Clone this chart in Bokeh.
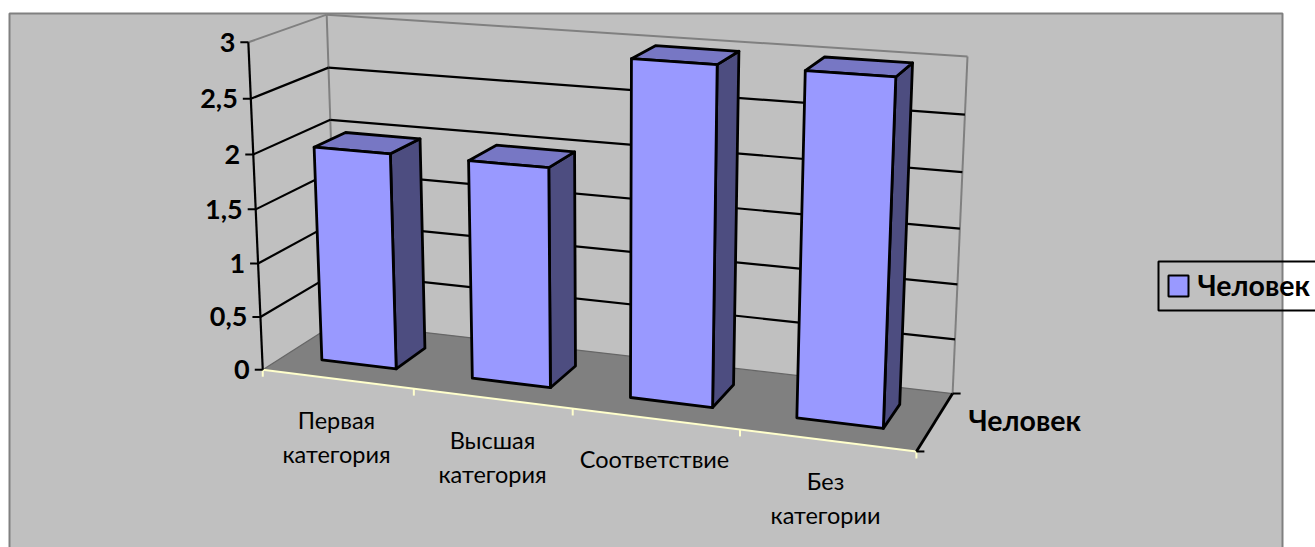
import numpy as np
from bokeh.plotting import figure
from bokeh.embed import file_html
from bokeh.resources import INLINE
from bokeh.core.properties import value

# ---- data ----
categories = ["Первая\nкатегория", "Высшая\nкатегория", "Соответствие", "Без\nкатегории"]
series_name = "Человек"
series_values = [2, 2, 3, 3]
value_ticks = [0, 0.5, 1, 1.5, 2, 2.5, 3]
value_tick_labels = ["0", "0,5", "1", "1,5", "2", "2,5", "3"]
value_max = 3

# ---- layout: projection of the 3-D box (u, depth, value share) on the page ----
box_world = [(0, 0, 0), (0, 0, 1), (1, 0, 0), (0, 1, 0), (0, 1, 1), (1, 1, 0), (1, 1, 1)]
box_page = [(262, 369), (248, 42), (916, 451), (337, 322), (326, 14), (952, 393), (967, 56)]

A, b = [], []
for (X, Y, Z), (x, y) in zip(box_world, box_page):
    A.append([X, Y, Z, 1, 0, 0, 0, 0, -x * X, -x * Y, -x * Z]); b.append(x)
    A.append([0, 0, 0, 0, X, Y, Z, 1, -y * X, -y * Y, -y * Z]); b.append(y)
sol = np.linalg.lstsq(np.array(A, float), np.array(b, float), rcond=None)[0]
M = np.append(sol, 1.0).reshape(3, 4)


def proj(u, d, v):
    q = M @ np.array([u, d, v / value_max, 1.0])
    return float(q[0] / q[2]), float(q[1] / q[2])


def seg(p0, p1):
    a, c = proj(*p0), proj(*p1)
    return [a[0], c[0]], [a[1], c[1]]


def poly(*pts):
    xy = [proj(*q) for q in pts]
    return [a for a, _ in xy], [c for _, c in xy]


p = figure(width=1315, height=547, x_range=(0, 1315), y_range=(547, 0),
           output_backend="svg", toolbar_location=None, min_border=0,
           background_fill_color="white", border_fill_color="white")
p.axis.visible = False
p.grid.visible = False
p.outline_line_color = None

# chart area
p.quad(left=[9], right=[1282], top=[13], bottom=[600], fill_color="#C0C0C0",
       line_color="#808080", line_width=2)

GREY = "#808080"
BLACK = "#000000"
PALE = "#FFFFCC"

# floor
fx, fy = poly((0, 0, 0), (1, 0, 0), (1, 1, 0), (0, 1, 0))
p.patch(fx, fy, fill_color="#808080", line_color=None)

# wall edges
wx, wy = [], []
for a, c in [((0, 1, 0), (0, 1, value_max)), ((1, 1, 0), (1, 1, value_max)),
             ((0, 1, value_max), (1, 1, value_max)), ((0, 0, value_max), (0, 1, value_max))]:
    sx, sy = seg(a, c)
    wx.append(sx); wy.append(sy)
p.multi_line(wx, wy, line_color=GREY, line_width=2)

# floor edges along the walls
ex, ey = [], []
for a, c in [((0, 0, 0), (0, 1, 0)), ((0, 1, 0), (1, 1, 0))]:
    sx, sy = seg(a, c)
    ex.append(sx); ey.append(sy)
p.multi_line(ex, ey, line_color="#666666", line_width=1.3)

# gridlines on the two walls
gx, gy = [], []
for v in value_ticks:
    if 0 < v < value_max:
        for a, c in [((0, 0, v), (0, 1, v)), ((0, 1, v), (1, 1, v))]:
            sx, sy = seg(a, c)
            gx.append(sx); gy.append(sy)
p.multi_line(gx, gy, line_color=BLACK, line_width=2.2)

# bars
n = len(categories)
px, py, pc = [], [], []
for i, v in enumerate(series_values):
    u0, u1 = (i + 0.25) / n, (i + 0.75) / n
    d0, d1 = 0.29, 0.71
    for pts, col in [(((u1, d0, 0), (u1, d1, 0), (u1, d1, v), (u1, d0, v)), "#4D4D80"),
                     (((u0, d0, v), (u1, d0, v), (u1, d1, v), (u0, d1, v)), "#7777C4"),
                     (((u0, d0, 0), (u1, d0, 0), (u1, d0, v), (u0, d0, v)), "#9999FF")]:
        x_, y_ = poly(*pts)
        px.append(x_); py.append(y_); pc.append(col)
p.patches(px, py, fill_color=pc, line_color=BLACK, line_width=2.8, line_join="round")

# category axis
sx, sy = seg((0, 0, 0), (1, 0, 0))
p.line(sx, sy, line_color=PALE, line_width=2)
for i in range(n + 1):
    tx, ty = proj(i / n, 0, 0)
    p.segment([tx], [ty], [tx], [ty + 7], line_color=PALE, line_width=2)

# value axis
sx, sy = seg((0, 0, 0), (0, 0, value_max))
p.line(sx, sy, line_color=BLACK, line_width=2.2)
for v, lab in zip(value_ticks, value_tick_labels):
    tx, ty = proj(0, 0, v)
    p.segment([tx - 8], [ty], [tx], [ty], line_color=BLACK, line_width=2)
    p.text([tx - 13], [ty], text=[lab], text_font=value("Lato"), text_font_style="bold",
           text_font_size="27px", text_align="right", text_baseline="middle", text_color=BLACK)

# depth axis
sx, sy = seg((1, 0, 0), (1, 1, 0))
p.line(sx, sy, line_color=BLACK, line_width=2.8)
for d in (0, 1):
    tx, ty = proj(1, d, 0)
    p.segment([tx], [ty], [tx + 8], [ty], line_color=BLACK, line_width=2)
p.text([968], [419], text=[series_name], text_font=value("Lato"), text_font_style="bold",
       text_font_size="28.5px", text_align="left", text_baseline="middle", text_color=BLACK)

# category labels
label_x = [336, 492, 654, 825]
label_top = [419, 439, 458, 480]
for lab, lx, ly in zip(categories, label_x, label_top):
    for k, line in enumerate(lab.split("\n")):
        p.text([lx], [ly + k * 34.5], text=[line], text_font=value("Lato"), text_font_size="23.5px",
               text_align="center", text_baseline="middle", text_color=BLACK)

# legend
p.quad(left=[1158], right=[1330], top=[261], bottom=[310], fill_color=None, line_color=BLACK, line_width=2)
p.quad(left=[1168], right=[1188], top=[275], bottom=[296], fill_color="#9999FF", line_color=BLACK, line_width=2)
p.text([1197], [284], text=[series_name], text_font=value("Lato"), text_font_style="bold",
       text_font_size="28.5px", text_align="left", text_baseline="middle", text_color=BLACK)

open("out.html", "w").write(file_html(p, INLINE))
